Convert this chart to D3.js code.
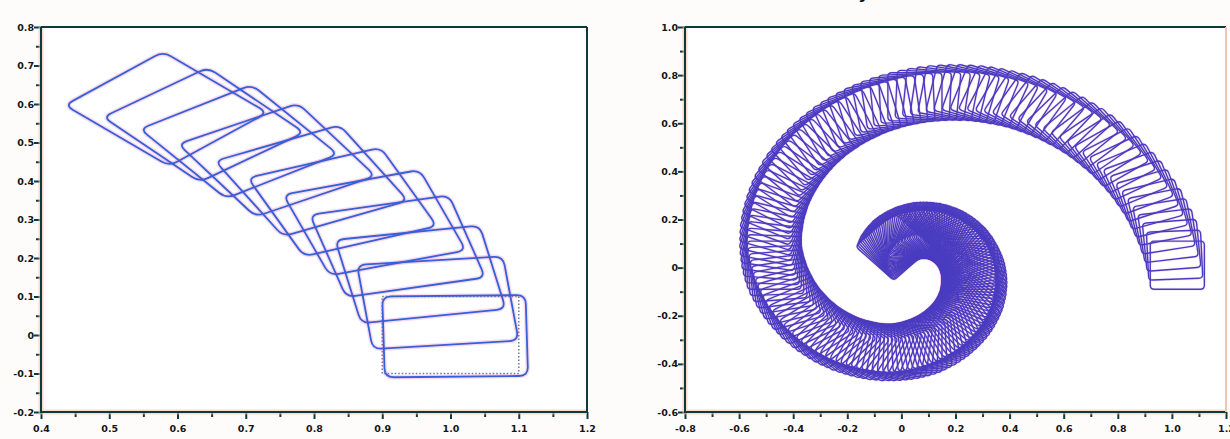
<!DOCTYPE html>
<html>
<head>
<script src="https://cdn.jsdelivr.net/npm/d3@7"></script>
<style>
  body { margin: 0; background: #fff; }
</style>
</head>
<body>
<svg width="1230" height="439"></svg>
<script>
// ---- left panel: successive rectangles (top-left corner, angle in deg, width, height)
var leftX     = [0.900, 0.863, 0.831, 0.794, 0.755, 0.703, 0.655, 0.601, 0.545, 0.491, 0.435];
var leftY     = [0.100, 0.182, 0.247, 0.312, 0.364, 0.408, 0.452, 0.496, 0.535, 0.566, 0.597];
var leftAngle = [1, 6, 10, 14, 18, 22, 27, 31, 35, 40, 44];
var leftW     = [0.21, 0.215, 0.215, 0.21, 0.21, 0.21, 0.205, 0.205, 0.2, 0.2, 0.2];
var leftH     = [0.21, 0.22, 0.22, 0.22, 0.22, 0.22, 0.22, 0.22, 0.22, 0.22, 0.22];
// the original (dotted) square
var boxX = [0.9, 1.1];
var boxY = [-0.1, 0.1];

// ---- right panel: spiral of squares (centre x, centre y, angle in deg)
var spiralX = [
  1.020, 1.010, 0.999, 0.986, 0.971, 0.955, 0.937, 0.918, 0.898, 0.876,
  0.853, 0.829, 0.804, 0.777, 0.750, 0.722, 0.693, 0.663, 0.633, 0.602,
  0.570, 0.538, 0.506, 0.473, 0.440, 0.407, 0.374, 0.341, 0.307, 0.274,
  0.241, 0.209, 0.176, 0.144, 0.112, 0.081, 0.050, 0.020, -0.010, -0.039,
  -0.068, -0.095, -0.122, -0.149, -0.174, -0.199, -0.222, -0.245, -0.267, -0.288,
  -0.308, -0.327, -0.344, -0.361, -0.377, -0.391, -0.405, -0.417, -0.428, -0.438,
  -0.447, -0.455, -0.462, -0.468, -0.472, -0.475, -0.478, -0.479, -0.479, -0.479,
  -0.477, -0.474, -0.470, -0.464, -0.456, -0.448, -0.439, -0.430, -0.419, -0.408,
  -0.396, -0.384, -0.371, -0.357, -0.343, -0.328, -0.313, -0.298, -0.282, -0.266,
  -0.250, -0.233, -0.216, -0.199, -0.182, -0.165, -0.148, -0.131, -0.113, -0.096,
  -0.079, -0.062, -0.046, -0.029, -0.013, 0.003, 0.019, 0.035, 0.050, 0.065,
  0.079, 0.093, 0.106, 0.119, 0.132, 0.143, 0.155, 0.165, 0.175, 0.185,
  0.194, 0.202, 0.210, 0.217, 0.224, 0.230, 0.236, 0.241, 0.245, 0.249,
  0.253, 0.255, 0.258, 0.260, 0.261, 0.262, 0.262, 0.262, 0.262, 0.261,
  0.259, 0.257, 0.255, 0.253, 0.250, 0.247, 0.245, 0.241, 0.238, 0.234,
  0.230, 0.225, 0.221, 0.216, 0.211, 0.206, 0.200, 0.194, 0.189, 0.183,
  0.177, 0.170, 0.164, 0.158, 0.151, 0.145, 0.138, 0.132, 0.125, 0.118,
  0.112, 0.105, 0.099, 0.093, 0.086, 0.080, 0.074, 0.068, 0.062, 0.056,
  0.050, 0.044, 0.039, 0.034, 0.028, 0.023, 0.018, 0.013, 0.009, 0.004,
  0.000, -0.004, -0.008, -0.012, -0.016, -0.019, -0.022, -0.025, -0.028
];
var spiralY = [
  0.010, 0.052, 0.093, 0.133, 0.172, 0.211, 0.248, 0.284, 0.319, 0.352,
  0.384, 0.415, 0.445, 0.473, 0.500, 0.526, 0.549, 0.572, 0.593, 0.612,
  0.630, 0.646, 0.661, 0.674, 0.686, 0.696, 0.705, 0.712, 0.717, 0.721,
  0.724, 0.725, 0.725, 0.723, 0.720, 0.716, 0.710, 0.704, 0.696, 0.687,
  0.677, 0.666, 0.653, 0.640, 0.626, 0.610, 0.594, 0.577, 0.559, 0.540,
  0.521, 0.501, 0.480, 0.459, 0.437, 0.414, 0.391, 0.368, 0.345, 0.321,
  0.297, 0.273, 0.249, 0.224, 0.200, 0.176, 0.151, 0.127, 0.103, 0.080,
  0.056, 0.033, 0.010, -0.012, -0.034, -0.056, -0.076, -0.096, -0.116, -0.134,
  -0.152, -0.170, -0.186, -0.202, -0.217, -0.231, -0.244, -0.257, -0.269, -0.279,
  -0.290, -0.299, -0.307, -0.315, -0.322, -0.327, -0.333, -0.337, -0.341, -0.343,
  -0.345, -0.346, -0.347, -0.347, -0.346, -0.344, -0.342, -0.339, -0.335, -0.329,
  -0.323, -0.317, -0.310, -0.302, -0.294, -0.286, -0.277, -0.268, -0.259, -0.249,
  -0.239, -0.229, -0.219, -0.208, -0.197, -0.187, -0.176, -0.165, -0.154, -0.143,
  -0.132, -0.121, -0.110, -0.099, -0.088, -0.078, -0.067, -0.057, -0.047, -0.037,
  -0.027, -0.017, -0.008, 0.001, 0.010, 0.019, 0.027, 0.035, 0.043, 0.051,
  0.058, 0.065, 0.072, 0.079, 0.085, 0.091, 0.097, 0.102, 0.107, 0.112,
  0.116, 0.120, 0.124, 0.127, 0.131, 0.133, 0.136, 0.138, 0.140, 0.142,
  0.143, 0.144, 0.145, 0.145, 0.145, 0.145, 0.144, 0.144, 0.143, 0.141,
  0.140, 0.139, 0.137, 0.135, 0.133, 0.131, 0.129, 0.126, 0.123, 0.120,
  0.117, 0.114, 0.111, 0.107, 0.104, 0.100, 0.096, 0.092, 0.088
];
var spiralAngle = [
  0, 2.5, 5, 7.5, 10, 12.5, 15, 17.5, 20, 22.5,
  25, 27.5, 30, 32.5, 35, 37.5, 40, 42.5, 45, 47.5,
  50, 52.5, 55, 57.5, 60, 62.5, 65, 67.5, 70, 72.5,
  75, 77.5, 80, 82.5, 85, 87.5, 90, 92.5, 95, 97.5,
  100, 102.5, 105, 107.5, 110, 112.5, 115, 117.5, 120, 122.5,
  125, 127.5, 130, 132.5, 135, 137.5, 140, 142.5, 145, 147.5,
  150, 152.5, 155, 157.5, 160, 162.5, 165, 167.5, 170, 172.5,
  175, 177.5, 180, 182.5, 185, 187.5, 190, 192.5, 195, 197.5,
  200, 202.5, 205, 207.5, 210, 212.5, 215, 217.5, 220, 222.5,
  225, 227.5, 230, 232.5, 235, 237.5, 240, 242.5, 245, 247.5,
  250, 252.5, 255, 257.5, 260, 262.5, 265, 267.5, 270, 272.5,
  275, 277.5, 280, 282.5, 285, 287.5, 290, 292.5, 295, 297.5,
  300, 302.5, 305, 307.5, 310, 312.5, 315, 317.5, 320, 322.5,
  325, 327.5, 330, 332.5, 335, 337.5, 340, 342.5, 345, 347.5,
  350, 352.5, 355, 357.5, 360, 362.5, 365, 367.5, 370, 372.5,
  375, 377.5, 380, 382.5, 385, 387.5, 390, 392.5, 395, 397.5,
  400, 402.5, 405, 407.5, 410, 412.5, 415, 417.5, 420, 422.5,
  425, 427.5, 430, 432.5, 435, 437.5, 440, 442.5, 445, 447.5,
  450, 452.5, 455, 457.5, 460, 462.5, 465, 467.5, 470, 472.5,
  475, 477.5, 480, 482.5, 485, 487.5, 490, 492.5, 495
];
var spiralSide = 0.2;

// ---- tick labels
var leftXTicks  = ["0.4", "0.5", "0.6", "0.7", "0.8", "0.9", "1.0", "1.1", "1.2"];
var leftYTicks  = ["-0.2", "-0.1", "0", "0.1", "0.2", "0.3", "0.4", "0.5", "0.6", "0.7", "0.8"];
var rightXTicks = ["-0.8", "-0.6", "-0.4", "-0.2", "0", "0.2", "0.4", "0.6", "0.8", "1.0", "1.2"];
var rightYTicks = ["-0.6", "-0.4", "-0.2", "0", "0.2", "0.4", "0.6", "0.8", "1.0"];

var svg = d3.select("svg");
svg.append("rect").attr("width", 1230).attr("height", 439).attr("fill", "#fefcfb");

var lineColor = "#3560d8",
    haloColor = "#e06cb8",
    axisColor = "#0d3a3d";

var xL = d3.scaleLinear().domain([0.4, 1.2]).range([41, 587]),
    yL = d3.scaleLinear().domain([-0.2, 0.8]).range([412, 27]),
    xR = d3.scaleLinear().domain([-0.8, 1.2]).range([685, 1226]),
    yR = d3.scaleLinear().domain([-0.6, 1.0]).range([412, 27]);

function towards(p, q, r) {
  var dx = q[0] - p[0], dy = q[1] - p[1], len = Math.hypot(dx, dy);
  var t = Math.min(r, len / 2) / len;
  return [p[0] + dx * t, p[1] + dy * t];
}

function roundedPath(pts, r) {
  var p = d3.path(), n = pts.length;
  for (var i = 0; i < n; i++) {
    var cur = pts[i], prev = pts[(i + n - 1) % n], next = pts[(i + 1) % n];
    var a = towards(cur, prev, r), b = towards(cur, next, r);
    if (i === 0) p.moveTo(a[0], a[1]); else p.lineTo(a[0], a[1]);
    p.quadraticCurveTo(cur[0], cur[1], b[0], b[1]);
  }
  p.closePath();
  return p.toString();
}

function drawPanel(xs, ys, xTicks, yTicks, xStep, yStep) {
  var x0 = xs.range()[0], x1 = xs.range()[1], y0 = ys.range()[1], y1 = ys.range()[0];
  var plot = svg.append("g");
  plot.append("rect").attr("x", x0).attr("y", y0).attr("width", x1 - x0).attr("height", y1 - y0)
    .attr("fill", "#fff");

  var xMajor = xTicks.map(function(t) { return +t; });
  var yMajor = yTicks.map(function(t) { return +t; });
  var xMinor = xMajor.slice(0, -1).map(function(v) { return v + xStep / 2; });
  var yMinor = yMajor.slice(0, -1).map(function(v) { return v + yStep / 2; });

  var ax = svg.append("g").attr("transform", "translate(0," + y1 + ")");
  ax.call(d3.axisBottom(xs).tickValues(xMajor).tickSize(7).tickSizeOuter(0).tickPadding(6)
    .tickFormat(function(d, i) { return xTicks[i]; }));
  var axm = svg.append("g").attr("transform", "translate(0," + y1 + ")");
  axm.call(d3.axisBottom(xs).tickValues(xMinor).tickSize(5).tickSizeOuter(0).tickFormat(""));

  var ay = svg.append("g").attr("transform", "translate(" + x0 + ",0)");
  ay.call(d3.axisLeft(ys).tickValues(yMajor).tickSize(7).tickSizeOuter(0).tickPadding(0)
    .tickFormat(function(d, i) { return yTicks[i]; }));
  var aym = svg.append("g").attr("transform", "translate(" + x0 + ",0)");
  aym.call(d3.axisLeft(ys).tickValues(yMinor).tickSize(5).tickSizeOuter(0).tickFormat(""));

  [ax, axm, ay, aym].forEach(function(g) {
    g.select(".domain").remove();
    g.selectAll("line").attr("stroke", axisColor).attr("stroke-width", 2);
    g.selectAll("text").attr("fill", "#151515").attr("font-family", "DejaVu Sans")
      .attr("font-weight", "bold").attr("font-size", 9.5);
  });

  // frame
  var frame = svg.append("g").attr("fill", "none");
  frame.append("path").attr("d", "M" + x0 + "," + y0 + "V" + y1 + "H" + x1)
    .attr("stroke", "#f3c4a8").attr("stroke-width", 5).attr("opacity", 0.6);
  frame.append("path").attr("d", "M" + x0 + "," + y0 + "V" + y1 + "H" + x1)
    .attr("stroke", axisColor).attr("stroke-width", 2);
  frame.append("path").attr("d", "M" + x0 + "," + y0 + "H" + x1)
    .attr("stroke", axisColor).attr("stroke-width", 2);
  return plot;
}

var leftPlot = drawPanel(xL, yL, leftXTicks, leftYTicks, 0.1, 0.1);
svg.append("line").attr("x1", xL(1.2)).attr("x2", xL(1.2)).attr("y1", yL(0.8)).attr("y2", yL(-0.2))
  .attr("stroke", axisColor).attr("stroke-width", 2);
var rightPlot = drawPanel(xR, yR, rightXTicks, rightYTicks, 0.2, 0.2);
svg.append("line").attr("x1", xR(1.2)).attr("x2", xR(1.2)).attr("y1", yR(1.0)).attr("y2", yR(-0.6))
  .attr("stroke", "#f0c4ae").attr("stroke-width", 2);

// ---- left panel marks
var leftRects = leftX.map(function(x, i) {
  var a = leftAngle[i] * Math.PI / 180, c = Math.cos(a), s = Math.sin(a);
  var D = [x, leftY[i]];
  var C = [D[0] + leftW[i] * c, D[1] + leftW[i] * s];
  var B = [C[0] + leftH[i] * s, C[1] - leftH[i] * c];
  var A = [D[0] + leftH[i] * s, D[1] - leftH[i] * c];
  return [D, C, B, A].map(function(p) { return [xL(p[0]), yL(p[1])]; });
});

leftPlot.append("path")
  .attr("d", "M" + xL(boxX[0]) + "," + yL(boxY[1]) + "H" + xL(boxX[1]) + "V" + yL(boxY[0]) +
             "H" + xL(boxX[0]) + "Z")
  .attr("fill", "none").attr("stroke", "#6b7896").attr("stroke-width", 1.5)
  .attr("stroke-dasharray", "1.5,2");

leftPlot.selectAll(".halo").data(leftRects).enter().append("path")
  .attr("d", function(d) { return roundedPath(d, 9); })
  .attr("fill", "none").attr("stroke", haloColor).attr("stroke-width", 4.5).attr("opacity", 0.25);
leftPlot.selectAll(".rect").data(leftRects).enter().append("path")
  .attr("d", function(d) { return roundedPath(d, 9); })
  .attr("fill", "none").attr("stroke", lineColor).attr("stroke-width", 1.8);

// ---- right panel marks
var hs = spiralSide / 2;
var spiralRects = spiralX.map(function(x, i) {
  var a = spiralAngle[i] * Math.PI / 180, c = Math.cos(a), s = Math.sin(a);
  return [[-hs, hs], [hs, hs], [hs, -hs], [-hs, -hs]].map(function(q) {
    return [xR(x + q[0] * c - q[1] * s), yR(spiralY[i] + q[0] * s + q[1] * c)];
  });
});

rightPlot.selectAll(".halo").data(spiralRects).enter().append("path")
  .attr("d", function(d) { return roundedPath(d, 4); })
  .attr("fill", "none").attr("stroke", "#d060b0").attr("stroke-width", 3).attr("opacity", 0.14);
rightPlot.selectAll(".rect").data(spiralRects).enter().append("path")
  .attr("d", function(d) { return roundedPath(d, 4); })
  .attr("fill", "none").attr("stroke", "#4a3cc0").attr("stroke-width", 1.4);

// title, cut off at the top edge
svg.append("text").attr("x", 858).attr("y", -3).attr("font-family", "DejaVu Sans")
  .attr("font-size", 24).attr("fill", "#111").text("y");
</script>
</body>
</html>
